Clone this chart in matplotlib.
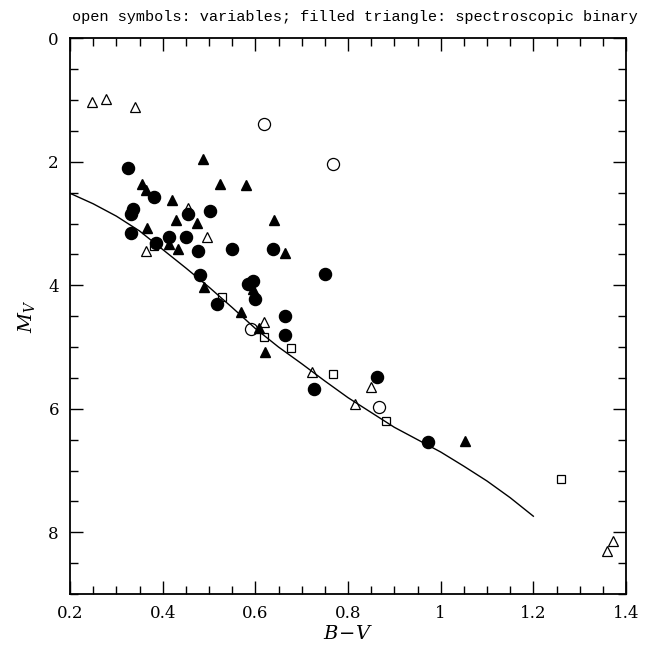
import matplotlib
matplotlib.use("Agg")
import matplotlib.pyplot as plt
from matplotlib.ticker import MultipleLocator, FuncFormatter

# filled circles
fc_bv = [0.326, 0.382, 0.337, 0.331, 0.454, 0.502, 0.331, 0.414, 0.450, 0.385,
         0.476, 0.550, 0.639, 0.750, 0.480, 0.584, 0.595, 0.600, 0.517, 0.664,
         0.663, 0.727, 0.862, 0.972]
fc_mv = [2.10, 2.57, 2.76, 2.85, 2.85, 2.79, 3.15, 3.22, 3.22, 3.32,
         3.44, 3.41, 3.41, 3.82, 3.83, 3.98, 3.93, 4.23, 4.30, 4.50,
         4.80, 5.68, 5.49, 6.54]

# filled triangles (spectroscopic binaries)
ft_bv = [0.488, 0.524, 0.580, 0.356, 0.363, 0.420, 0.429, 0.474, 0.367, 0.641,
         0.665, 0.413, 0.432, 0.489, 0.596, 0.570, 0.608, 0.620, 1.052]
ft_mv = [1.955, 2.36, 2.38, 2.36, 2.46, 2.62, 2.95, 2.99, 3.07, 2.94,
         3.48, 3.33, 3.41, 4.02, 4.06, 4.44, 4.69, 5.08, 6.52]

# open triangles
ot_bv = [0.248, 0.278, 0.341, 0.455, 0.496, 0.364, 0.619, 0.723, 0.815, 0.850,
         1.371, 1.359]
ot_mv = [1.03, 0.98, 1.12, 2.75, 3.22, 3.45, 4.59, 5.40, 5.92, 5.64,
         8.14, 8.30]

# open squares
os_bv = [0.381, 0.527, 0.619, 0.678, 0.767, 0.881, 1.260]
os_mv = [3.36, 4.19, 4.84, 5.02, 5.43, 6.19, 7.13]

# open circles
oc_bv = [0.619, 0.768, 0.590, 0.867]
oc_mv = [1.38, 2.04, 4.71, 5.97]

# reference sequence curve
curve_bv = [0.20, 0.25, 0.30, 0.35, 0.40, 0.45, 0.50, 0.55, 0.60, 0.65, 0.70,
            0.75, 0.80, 0.85, 0.90, 0.95, 1.00, 1.05, 1.10, 1.15, 1.20]
curve_mv = [2.51, 2.68, 2.88, 3.12, 3.42, 3.72, 4.03, 4.36, 4.70, 5.00, 5.27,
            5.55, 5.82, 6.06, 6.30, 6.50, 6.70, 6.93, 7.17, 7.44, 7.74]

plt.rcParams['font.family'] = ['DejaVu Serif']
plt.rcParams['mathtext.fontset'] = 'dejavuserif'

fig = plt.figure(figsize=(6.5, 6.47), dpi=100)
ax = fig.add_axes([0.1077, 0.0819, 0.8554, 0.8589])

ax.plot(curve_bv, curve_mv, color='black', lw=1.0, zorder=1)
ax.plot(fc_bv, fc_mv, 'o', ms=8.7, mfc='black', mec='black', ls='none', zorder=3)
ax.plot(ft_bv, ft_mv, '^', ms=6.5, mfc='black', mec='black', ls='none', zorder=3)
ax.plot(ot_bv, ot_mv, '^', ms=7.5, mfc='none', mec='black', mew=0.9, ls='none', zorder=4)
ax.plot(os_bv, os_mv, 's', ms=6.0, mfc='none', mec='black', mew=0.9, ls='none', zorder=2)
ax.plot(oc_bv, oc_mv, 'o', ms=8.7, mfc='none', mec='black', mew=0.9, ls='none', zorder=4)

ax.set_xlim(0.2, 1.4)
ax.set_ylim(9, 0)

ax.xaxis.set_major_locator(MultipleLocator(0.2))
ax.xaxis.set_minor_locator(MultipleLocator(0.05))
ax.yaxis.set_major_locator(MultipleLocator(2))
ax.yaxis.set_minor_locator(MultipleLocator(0.5))

def fmt(v, pos):
    s = f"{v:.1f}"
    if s.endswith(".0"):
        s = s[:-2]
    return s
ax.xaxis.set_major_formatter(FuncFormatter(fmt))

ax.tick_params(which='both', direction='in', top=True, right=True, labelsize=12, width=1.0)
ax.tick_params(which='major', length=9.5, pad=8)
ax.tick_params(which='minor', length=5.5)
for sp in ax.spines.values():
    sp.set_linewidth(1.3)

ax.set_xlabel(r'$B\!-\!V$', fontsize=14, labelpad=2)
ax.set_ylabel(r'$M_V$', fontsize=14, labelpad=8)

fig.text(0.546, 0.9735, 'open symbols: variables; filled triangle: spectroscopic binary',
         ha='center', va='center', fontsize=11, family=['Liberation Mono', 'DejaVu Sans Mono'])

fig.savefig('out.png', dpi=100)
